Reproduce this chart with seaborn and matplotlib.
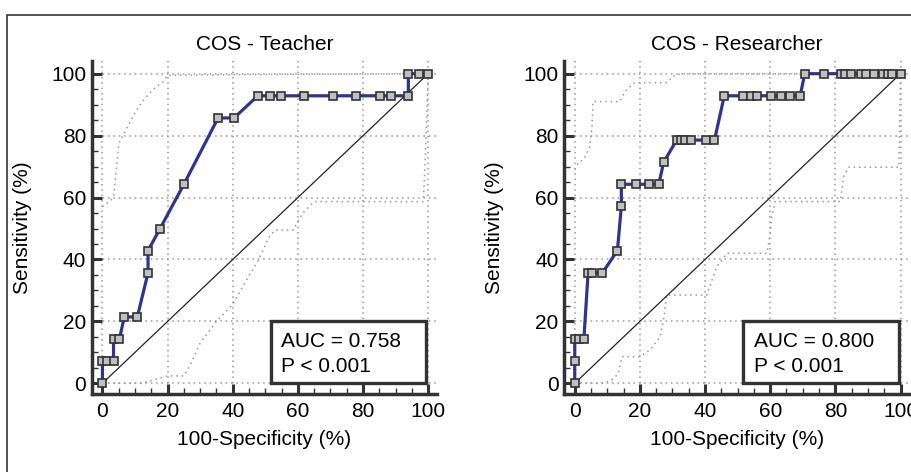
import matplotlib
matplotlib.use("Agg")
import matplotlib.pyplot as plt
from matplotlib.patches import Rectangle
from matplotlib.ticker import MultipleLocator
import seaborn as sns
import pandas as pd

# ROC points (100-specificity, sensitivity), in %
teacher_fpr = [0, 0, 1.5, 3.4, 3.4, 5.2, 6.7, 10.7, 14.0, 14.0, 17.7, 25.0, 35.5, 40.4,
               47.7, 51.3, 54.8, 62.0, 70.8, 77.9, 85.1, 88.5, 93.9, 93.9, 97.2, 100]
teacher_sens = [0, 7.14, 7.14, 7.14, 14.29, 14.29, 21.43, 21.43, 35.71, 42.86, 50.0, 64.29,
                85.71, 85.71, 92.86, 92.86, 92.86, 92.86, 92.86, 92.86, 92.86, 92.86, 92.86,
                100, 100, 100]

res_fpr = [0, 0, 0, 1.3, 2.8, 4.1, 5.4, 8.5, 13.1, 14.3, 14.3, 18.8, 22.9, 25.8, 27.3,
           31.3, 32.5, 33.9, 35.7, 40.2, 42.9, 45.9, 51.7, 54.1, 55.9, 60.3, 63.4, 66.2,
           69.2, 70.6, 76.4, 81.8, 82.9, 84.8, 87.9, 89.3, 92.0, 94.7, 96.2, 97.5, 100]
res_sens = [0, 7.14, 14.29, 14.29, 14.29, 35.71, 35.71, 35.71, 42.86, 57.14, 64.29, 64.29,
            64.29, 64.29, 71.43, 78.57, 78.57, 78.57, 78.57, 78.57, 78.57, 92.86, 92.86,
            92.86, 92.86, 92.86, 92.86, 92.86, 92.86, 100, 100, 100, 100, 100, 100, 100,
            100, 100, 100, 100, 100]

# 95% confidence bands (dotted grey)
teacher_up_x = [0, 3, 3.5, 5, 5.5, 6.5, 8, 10.5, 13, 16, 18.7, 20, 40, 100]
teacher_up_y = [57, 59.5, 61, 77, 78.6, 80.5, 83.5, 88.3, 92, 95.3, 97.5, 99.5, 99.7, 100]
teacher_lo_x = [0, 12, 17, 20, 25, 27, 30, 35, 40, 44, 48, 51, 53, 58.5, 61.5, 65, 98.5, 99, 100]
teacher_lo_y = [0, 0, 1.5, 2.4, 2.4, 6, 13, 20, 25.5, 33, 40, 47, 49.5, 49.5, 55, 58.7, 58.7, 70, 100]

res_up_x = [0, 1, 3, 4.6, 5.3, 5.6, 13.8, 15.4, 18, 20, 28.2, 30.8, 33, 100]
res_up_y = [69, 71, 72.7, 76.5, 83, 91, 91, 94.2, 96.9, 97.1, 97.1, 99.6, 100, 100]
res_lo_x = [0, 8, 11, 13.3, 14.5, 20, 23.1, 26.2, 27.5, 28.2, 40.5, 43.6, 46.7, 59, 60,
            60.5, 61.5, 81.5, 82.6, 84, 99.5, 100]
res_lo_y = [0, 0, 0.8, 3, 8.6, 8.6, 10.8, 15, 22, 28.5, 28.5, 37.7, 42, 42, 48.5, 53.8,
            58.7, 58.7, 66.8, 69.8, 69.8, 100]

titles = ["COS - Teacher", "COS - Researcher"]
auc_text = ["AUC = 0.758", "AUC = 0.800"]
p_text = ["P < 0.001", "P < 0.001"]

sns.set_theme(style="white")
plt.rcParams["font.family"] = ["Liberation Sans", "DejaVu Sans"]
plt.rcParams["font.size"] = 15
plt.rcParams["text.color"] = "black"
plt.rcParams["axes.labelcolor"] = "black"
plt.rcParams["xtick.labelcolor"] = "black"
plt.rcParams["ytick.labelcolor"] = "black"

fig = plt.figure(figsize=(9.12, 4.72), dpi=100)

# outer frame around the whole figure
fig.patches.append(Rectangle((7 / 912, -0.05), 1.1, 1 - 15 / 472 + 0.05,
                             transform=fig.transFigure, fill=False,
                             edgecolor="#333333", linewidth=1.2))

panels = [
    (teacher_fpr, teacher_sens, teacher_up_x, teacher_up_y, teacher_lo_x, teacher_lo_y),
    (res_fpr, res_sens, res_up_x, res_up_y, res_lo_x, res_lo_y),
]
lefts = [91.7 / 912, 564 / 912]

for i, (fx, sy, ux, uy, lx, ly) in enumerate(panels):
    ax = fig.add_axes([lefts[i], 1 - 394 / 472, 345.3 / 912, 333 / 472])

    roc = pd.DataFrame({"fpr": fx, "sens": sy})
    up = pd.DataFrame({"x": ux, "y": uy})
    lo = pd.DataFrame({"x": lx, "y": ly})
    diag = pd.DataFrame({"x": [0, 100], "y": [0, 100]})

    for band in (up, lo):
        sns.lineplot(data=band, x="x", y="y", ax=ax, estimator=None, sort=False,
                     color="#999999", linestyle=(0, (1, 2.5)), linewidth=1.1, zorder=2)
    sns.lineplot(data=diag, x="x", y="y", ax=ax, estimator=None, sort=False,
                 color="#222222", linewidth=0.9, zorder=3)
    sns.lineplot(data=roc, x="fpr", y="sens", ax=ax, estimator=None, sort=False,
                 color="#2b3595", linewidth=2.3, marker="s", markersize=6.3,
                 markerfacecolor="#c0c0c0", markeredgecolor="#333333",
                 markeredgewidth=1.2, zorder=4)

    ax.set_xlim(-3.3, 102.7)
    ax.set_ylim(-3.45, 104.1)
    ax.set_xticks(range(0, 101, 20))
    ax.set_yticks(range(0, 101, 20))
    ax.xaxis.set_minor_locator(MultipleLocator(5))
    ax.yaxis.set_minor_locator(MultipleLocator(5))
    ax.tick_params(which="major", direction="in", length=7.5, width=2.2,
                   color="#333333", labelsize=15, labelcolor="black")
    ax.tick_params(which="minor", direction="in", length=4, width=1,
                   color="#333333")
    ax.tick_params(axis="x", which="major", pad=6)
    ax.tick_params(axis="y", which="major", pad=4)
    ax.tick_params(which="both", bottom=True, left=True)

    ax.grid(True, which="major", color="#999999", linestyle=(0, (1, 2.5)), linewidth=1.1)
    ax.set_axisbelow(True)

    sns.despine(ax=ax)
    for side in ("left", "bottom"):
        ax.spines[side].set_linewidth(2.5)
        ax.spines[side].set_color("#333333")

    ax.set_title(titles[i], fontsize=15, pad=8, color="black")
    ax.set_xlabel("100-Specificity (%)", fontsize=15, labelpad=6)
    ax.set_ylabel("Sensitivity (%)", fontsize=15, labelpad=14)

    # AUC box
    ax.add_patch(Rectangle((51.7, 0.2), 47.7, 20.0, facecolor="white",
                           edgecolor="#333333", linewidth=2.4, zorder=5))
    ax.text(54.9, 11.8, auc_text[i], fontsize=15, va="baseline", ha="left", zorder=6)
    ax.text(54.9, 3.75, p_text[i], fontsize=15, va="baseline", ha="left", zorder=6)

fig.savefig("out.png", dpi=100)
